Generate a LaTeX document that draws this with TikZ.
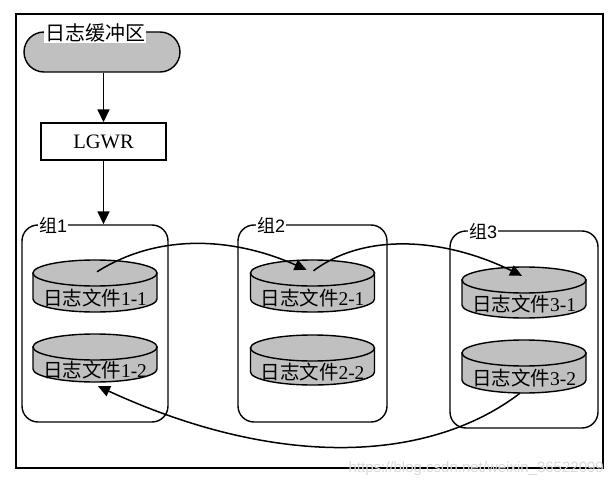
\documentclass[tikz,border=0pt]{standalone}
\usepackage{fontspec}
\setmainfont{Liberation Serif}
\newfontfamily\cjk{Noto Sans CJK SC}
\newfontfamily\arialf{Liberation Sans}
\usetikzlibrary{arrows.meta,calc}
\definecolor{cylgray}{RGB}{192,192,192}
\tikzset{
  cylbody/.style={fill=cylgray, draw=black, line width=1.4pt},
  cyltext/.style={minimum width=124pt, inner sep=0pt, font=\fontsize{19.5}{19.5}\selectfont},
  groupbox/.style={draw, line width=1.4pt, rounded corners=16pt, inner sep=0pt},
  grouplabel/.style={fill=white, inner sep=1pt, anchor=west, font=\fontsize{18}{18}\selectfont},
  flow/.style={line width=1.6pt, -{Triangle[length=13pt,width=12pt]}},
  link/.style={line width=1.5pt, -{Triangle[length=12pt,width=11pt]}},
}
% #1 name, #2 centre x, #3 top y, #4 bottom y, #5 label
\newcommand\logcyl[5]{%
  \path[cylbody] ({#2-62},{#3+13}) -- ({#2-62},{#4-13})
     arc[start angle=180, end angle=360, x radius=62pt, y radius=13pt]
     -- ({#2+62},{#3+13}) -- cycle;
  \path[cylbody] (#2,{#3+13}) ellipse [x radius=62pt, y radius=13pt];
  \node[cyltext, minimum height={#4-#3}] (#1) at (#2,{(#3+#4)/2})
     {\smash{\raisebox{-19pt}{#5}}};
}
\begin{document}
\begin{tikzpicture}[x=1pt,y=-1pt]
\useasboundingbox (0,0) rectangle (616,487);
\draw[line width=1.2pt] (16,14) rectangle (603,468);

% log buffer
\node[draw, fill=cylgray, line width=1.4pt, rounded corners=20pt,
      minimum width=156pt, minimum height=40pt, inner sep=0pt] (buf) at (102,52) {};
\node[fill=white, inner sep=1pt, anchor=west, font=\fontsize{20}{20}\selectfont]
      (bufl) at (44,33) {\cjk 日志缓冲区};

% LGWR
\node[draw, line width=1.4pt, minimum width=125pt, minimum height=37pt, inner sep=0pt,
      font=\fontsize{20.5}{20.5}\selectfont] (lgwr) at (103.5,141.5) {LGWR};

% groups
\node[groupbox, minimum width=146pt, minimum height=197pt] (g1) at (95,323.5) {};
\node[groupbox, minimum width=149pt, minimum height=197pt] (g2) at (312.5,323.5) {};
\node[groupbox, minimum width=148pt, minimum height=197pt] (g3) at (524,329.5) {};
\node[grouplabel] (gl1) at (38,225) {{\cjk 组}{\arialf 1}};
\node[grouplabel] (gl2) at (256,225) {{\cjk 组}{\arialf 2}};
\node[grouplabel] (gl3) at (468,231) {{\cjk 组}{\arialf 3}};

% log files
\logcyl{c11}{95}{260}{312}{{\cjk 日志文件}1-1}
\logcyl{c12}{95}{334}{382}{{\cjk 日志文件}1-2}
\logcyl{c21}{312.5}{260}{312}{{\cjk 日志文件}2-1}
\logcyl{c22}{312.5}{335}{385}{{\cjk 日志文件}2-2}
\logcyl{c31}{524}{267}{318}{{\cjk 日志文件}3-1}
\logcyl{c32}{524}{340}{393}{{\cjk 日志文件}3-2}

% flow arrows
\draw[flow] (lgwr.north |- buf.south) -- (lgwr.north);
\draw[flow] (lgwr.south) -- (lgwr.south |- g1.north);

% switching arcs
\draw[link] ([shift={(2,12)}]c11.north) .. controls (160,232) and (235,238) .. ([shift={(-6,10)}]c21.north);
\draw[link] ([shift={(1,11)}]c21.north) .. controls (365,232) and (445,238) .. ([shift={(-2,9)}]c31.north);
\draw[link] ([shift={(-4,0)}]c32.south) .. controls (430,462) and (280,470) .. ([shift={(3,4)}]c12.south);

% watermark
\node[anchor=east, inner sep=0pt, text=gray!30, font=\arialf\fontsize{15}{15}\selectfont]
      (wm) at (604,469) {https://blog.csdn.net/weixin\_36522099};
\end{tikzpicture}
\end{document}
